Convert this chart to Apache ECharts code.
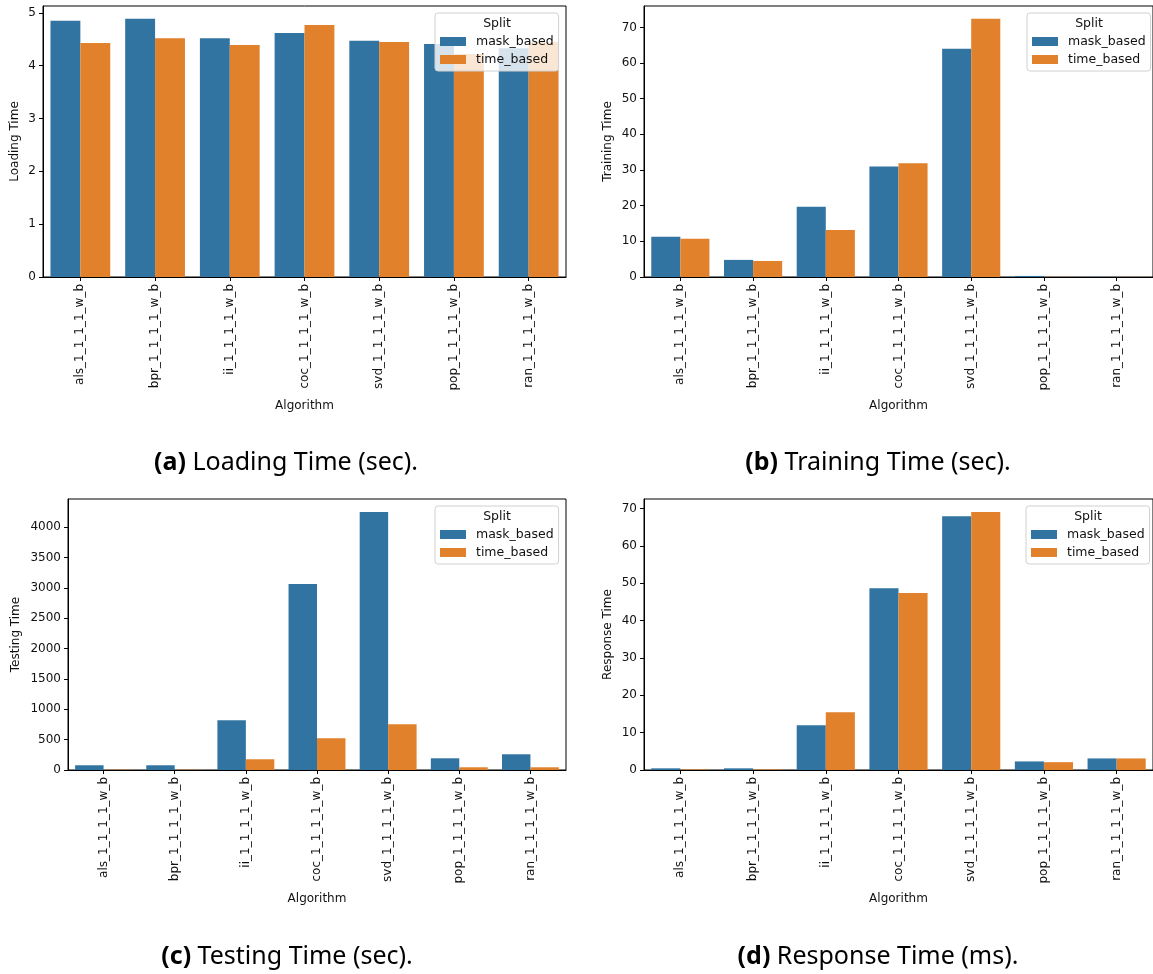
<!DOCTYPE html>
<html lang="en">
<head>
<meta charset="UTF-8">
<title>Loading / Training / Testing / Response Time</title>
<style>
    html, body { margin: 0; padding: 0; background: #fff; }
    #main { width: 1153px; height: 974px; }
</style>
</head>
<body>
<div id="main"></div>
<script src="https://cdn.jsdelivr.net/npm/echarts@6.0.0/dist/echarts.min.js"></script>
<script>
// categories and hue levels
var algorithms = ['als_1_1_1_1_w_b', 'bpr_1_1_1_1_w_b', 'ii_1_1_1_1_w_b', 'coc_1_1_1_1_w_b',
    'svd_1_1_1_1_w_b', 'pop_1_1_1_1_w_b', 'ran_1_1_1_1_w_b'];
var splits = ['mask_based', 'time_based'];

// values
var loadingMask = [4.85, 4.89, 4.52, 4.62, 4.47, 4.41, 4.33];
var loadingTime = [4.43, 4.52, 4.39, 4.77, 4.45, 4.22, 4.45];
var trainingMask = [11.3, 4.8, 19.7, 31.0, 64.0, 0.3, 0.03];
var trainingTime = [10.7, 4.5, 13.2, 31.9, 72.4, 0.05, 0.03];
var testingMask = [78, 78, 820, 3064, 4252, 193, 259];
var testingTime = [5, 5, 177, 523, 754, 45, 45];
var responseMask = [0.45, 0.45, 12.0, 48.7, 68.0, 2.3, 3.1];
var responseTime = [0.15, 0.15, 15.5, 47.4, 69.1, 2.1, 3.1];

// y tick labels
var loadingTicks = [0, 1, 2, 3, 4, 5];
var trainingTicks = [0, 10, 20, 30, 40, 50, 60, 70];
var testingTicks = [0, 500, 1000, 1500, 2000, 2500, 3000, 3500, 4000];
var responseTicks = [0, 10, 20, 30, 40, 50, 60, 70];

var colors = ['#3274a1', '#e1812c'];
var tickFont = 'DejaVu Sans';
var capFont = 'Noto Sans';

var panels = [
    {yName: 'Loading Time', tag: '(a)', caption: ' Loading Time (sec).', mask: loadingMask, time: loadingTime,
        ticks: loadingTicks, max: 5.13, grid: {left: 43, top: 6, width: 523, height: 271}, nameGap: 22,
        legend: [435, 13], cap: [286, 463]},
    {yName: 'Training Time', tag: '(b)', caption: ' Training Time (sec).', mask: trainingMask, time: trainingTime,
        ticks: trainingTicks, max: 76.0, grid: {left: 644, top: 6, width: 513, height: 271}, nameGap: 30,
        legend: [1027, 13], cap: [878, 463]},
    {yName: 'Testing Time', tag: '(c)', caption: ' Testing Time (sec).', mask: testingMask, time: testingTime,
        ticks: testingTicks, max: 4465, grid: {left: 68, top: 499, width: 498, height: 271}, nameGap: 46,
        legend: [435, 506], cap: [287, 957]},
    {yName: 'Response Time', tag: '(d)', caption: ' Response Time (ms).', mask: responseMask, time: responseTime,
        ticks: responseTicks, max: 72.6, grid: {left: 644, top: 499, width: 513, height: 271}, nameGap: 30,
        legend: [1026, 506], cap: [878, 957]}
];

var grids = [], xAxes = [], yAxes = [], series = [], legends = [], graphics = [];

for (var i = 0; i < panels.length; i++) {
    var p = panels[i];
    grids.push({
        left: p.grid.left, top: p.grid.top, width: p.grid.width, height: p.grid.height,
        show: true, borderColor: '#000', borderWidth: 1, backgroundColor: 'transparent'
    });
    xAxes.push({
        type: 'category', gridIndex: i, data: algorithms, z: 3,
        name: 'Algorithm', nameLocation: 'middle', nameGap: 123,
        nameTextStyle: {fontFamily: tickFont, fontSize: 12, color: '#111'},
        axisLine: {show: true, lineStyle: {color: '#000', width: 1}},
        axisTick: {show: true, alignWithLabel: true, length: 4, lineStyle: {color: '#000'}},
        axisLabel: {rotate: 90, interval: 0, margin: 7, fontFamily: tickFont, fontSize: 12, color: '#111'},
        splitLine: {show: false}
    });
    yAxes.push({
        type: 'value', gridIndex: i, min: 0, max: p.max, z: 3,
        name: p.yName, nameLocation: 'middle', nameGap: p.nameGap,
        nameTextStyle: {fontFamily: tickFont, fontSize: 12, color: '#111'},
        axisLine: {show: true, lineStyle: {color: '#000', width: 1}},
        axisTick: {show: true, length: 4, customValues: p.ticks, lineStyle: {color: '#000'}},
        axisLabel: {
            customValues: p.ticks, margin: 7, fontFamily: tickFont, fontSize: 12, color: '#111',
            formatter: function (v) { return String(v); }
        },
        splitLine: {show: false}
    });
    series.push({
        name: splits[0], type: 'bar', xAxisIndex: i, yAxisIndex: i, data: p.mask,
        barGap: '0%', barCategoryGap: '20%', itemStyle: {color: colors[0]}
    });
    series.push({
        name: splits[1], type: 'bar', xAxisIndex: i, yAxisIndex: i, data: p.time,
        barGap: '0%', barCategoryGap: '20%', itemStyle: {color: colors[1]}
    });
    legends.push({
        data: splits, orient: 'vertical', left: p.legend[0], top: p.legend[1],
        padding: [22, 5, 5, 5], itemGap: 5, itemWidth: 26, itemHeight: 9, icon: 'rect',
        backgroundColor: 'rgba(255,255,255,0.8)', borderColor: '#d0d0d0', borderWidth: 1, borderRadius: 3,
        selectedMode: false,
        textStyle: {fontFamily: tickFont, fontSize: 12.5, color: '#111', padding: [0, 0, 0, 5]}
    });
    // legend title, centred over the legend box
    graphics.push({
        type: 'text', x: p.legend[0] + 62, y: p.legend[1] + 11, z: 100,
        style: {text: 'Split', fontFamily: tickFont, fontSize: 12.5, fill: '#111', align: 'center', verticalAlign: 'middle'}
    });
    // sub caption under the panel
    graphics.push({
        type: 'text', x: p.cap[0], y: p.cap[1], z: 100,
        style: {
            text: '{b|' + p.tag + '}' + p.caption, fontFamily: capFont, fontSize: 25, fill: '#000',
            align: 'center', verticalAlign: 'middle',
            rich: {b: {fontFamily: capFont, fontSize: 25, fontWeight: 'bold', fill: '#000'}}
        }
    });
}

var myChart = echarts.init(document.getElementById('main'));
myChart.setOption({
    animation: false,
    grid: grids,
    xAxis: xAxes,
    yAxis: yAxes,
    legend: legends,
    series: series,
    graphic: graphics
});
</script>
</body>
</html>
